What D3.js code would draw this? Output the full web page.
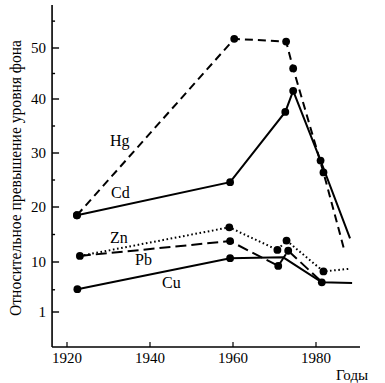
<!DOCTYPE html>
<html>
<head>
<meta charset="utf-8">
<script src="https://cdn.jsdelivr.net/npm/d3@7"></script>
<style>
  body { margin: 0; background: #fff; }
  svg { display: block; }
  text { font-family: "Liberation Serif", "DejaVu Serif", serif; fill: #000; }
</style>
</head>
<body>
<div id="chart"></div>
<script>
// Data (years, relative excess over background)
const hgYears = [1922.4, 1960.3, 1972.8, 1974.5, 1981.8, 1986.7];
const hgValues = [18.5, 51.7, 51.2, 46.0, 26.4, 12.5];
const hgDots = [1, 1, 1, 1, 1, 0];

const cdYears = [1922.4, 1959.3, 1972.6, 1974.5, 1981.1, 1988.2];
const cdValues = [18.5, 24.6, 37.6, 41.6, 28.6, 14.3];
const cdDots = [1, 1, 1, 1, 1, 0];

const znYears = [1923.1, 1959.1, 1970.7, 1972.9, 1981.8, 1988.4];
const znValues = [11.1, 16.3, 12.2, 13.9, 8.3, 8.8];
const znDots = [1, 1, 1, 1, 1, 0];

const pbYears = [1923.1, 1959.3, 1970.9, 1973.3, 1981.4];
const pbValues = [11.1, 13.8, 9.3, 12.05, 6.4];
const pbDots = [0, 1, 1, 1, 0];

const cuYears = [1922.5, 1959.3, 1972.1, 1981.4, 1988.7];
const cuValues = [5.1, 10.7, 10.85, 6.35, 6.2];
const cuDots = [1, 1, 0, 1, 0];

const xTicks = [1920, 1940, 1960, 1980];
const yTicks = [1, 10, 20, 30, 40, 50];
const yMinorTicks = [5, 15, 25, 35, 45, 55];

const yTitle = "Относительное превышение уровня фона";
const xTitle = "Годы";

const series = [
  { name: "Hg", years: hgYears, values: hgValues, dots: hgDots, dash: "8,5", label: [110, 146] },
  { name: "Cd", years: cdYears, values: cdValues, dots: cdDots, dash: null, label: [111, 198] },
  { name: "Zn", years: znYears, values: znValues, dots: znDots, dash: "1.6,2.6", label: [110, 243] },
  { name: "Pb", years: pbYears, values: pbValues, dots: pbDots, dash: "11,5", label: [135, 265] },
  { name: "Cu", years: cuYears, values: cuValues, dots: cuDots, dash: null, label: [162, 288] }
];

const width = 385, height = 383;

const svg = d3.select("#chart")
  .append("svg")
  .attr("width", width)
  .attr("height", height);

// x is linear in years; y axis of the figure is slightly uneven, so a piecewise scale
const xScale = d3.scaleLinear()
  .domain([1920, 1980])
  .range([67, 316]);

const yScale = d3.scaleLinear()
  .domain([-5.5, 1, 10, 20, 30, 40, 50, 58])
  .range([347, 312, 262, 207, 153, 99, 48, 5]);

const x0 = xScale(1916.4), x1 = xScale(1990.6);
const yBottom = yScale(-5.5), yTop = yScale(58);

// Axes lines
svg.append("line")
  .attr("x1", x0).attr("x2", x0)
  .attr("y1", yTop).attr("y2", yBottom)
  .attr("stroke", "#000").attr("stroke-width", 1.6);

svg.append("line")
  .attr("x1", x0).attr("x2", x1)
  .attr("y1", yBottom).attr("y2", yBottom)
  .attr("stroke", "#000").attr("stroke-width", 1.6);

// y ticks (pointing inside)
svg.selectAll("line.ytick")
  .data(yTicks)
  .enter()
  .append("line")
  .attr("class", "ytick")
  .attr("x1", x0).attr("x2", x0 + 7)
  .attr("y1", (d) => yScale(d)).attr("y2", (d) => yScale(d))
  .attr("stroke", "#000").attr("stroke-width", 1.4);

svg.selectAll("line.yminor")
  .data(yMinorTicks)
  .enter()
  .append("line")
  .attr("class", "yminor")
  .attr("x1", x0).attr("x2", x0 + 3)
  .attr("y1", (d) => yScale(d)).attr("y2", (d) => yScale(d))
  .attr("stroke", "#000").attr("stroke-width", 1.4);

svg.selectAll("text.ylabel")
  .data(yTicks)
  .enter()
  .append("text")
  .attr("class", "ylabel")
  .attr("x", x0 - 6)
  .attr("y", (d) => yScale(d))
  .attr("dy", "0.35em")
  .attr("text-anchor", "end")
  .style("font-size", "15px")
  .text((d) => d);

// x ticks
svg.selectAll("line.xtick")
  .data(xTicks)
  .enter()
  .append("line")
  .attr("class", "xtick")
  .attr("x1", (d) => xScale(d)).attr("x2", (d) => xScale(d))
  .attr("y1", yBottom).attr("y2", yBottom - 5)
  .attr("stroke", "#000").attr("stroke-width", 1.2);

svg.selectAll("text.xlabel")
  .data(xTicks)
  .enter()
  .append("text")
  .attr("class", "xlabel")
  .attr("x", (d) => xScale(d))
  .attr("y", yBottom + 16)
  .attr("text-anchor", "middle")
  .style("font-size", "15px")
  .text((d) => d);

// axis titles
svg.append("text")
  .attr("transform", "translate(21,178) rotate(-90)")
  .attr("text-anchor", "middle")
  .attr("textLength", 276)
  .attr("lengthAdjust", "spacingAndGlyphs")
  .style("font-size", "16px")
  .text(yTitle);

svg.append("text")
  .attr("x", 336)
  .attr("y", 380)
  .style("font-size", "15px")
  .text(xTitle);

// Lines
const line = d3.line()
  .x((d) => xScale(d[0]))
  .y((d) => yScale(d[1]));

series.forEach((s) => {
  const pts = s.years.map((yr, i) => [yr, s.values[i], s.dots[i]]);

  svg.append("path")
    .datum(pts)
    .attr("d", line)
    .attr("fill", "none")
    .attr("stroke", "#000")
    .attr("stroke-width", 2)
    .attr("stroke-dasharray", s.dash);

  svg.selectAll("circle." + s.name)
    .data(pts.filter((p) => p[2]))
    .enter()
    .append("circle")
    .attr("class", s.name)
    .attr("cx", (d) => xScale(d[0]))
    .attr("cy", (d) => yScale(d[1]))
    .attr("r", 3.9)
    .attr("fill", "#000");

  svg.append("text")
    .attr("x", s.label[0])
    .attr("y", s.label[1])
    .style("font-size", "16px")
    .text(s.name);
});
</script>
</body>
</html>
